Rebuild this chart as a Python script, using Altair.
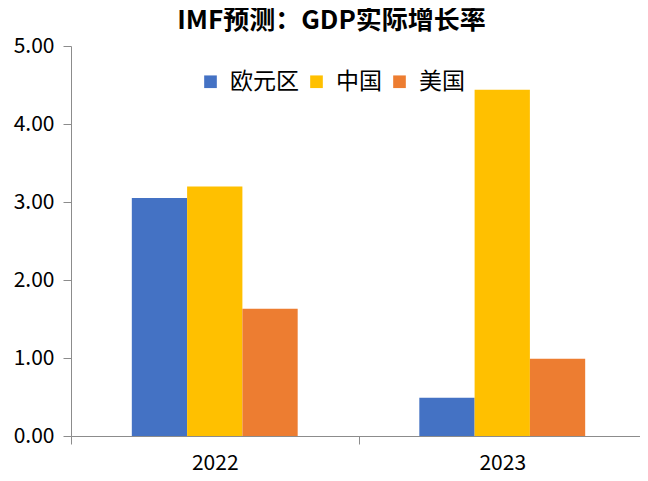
import altair as alt
import pandas as pd

years = ["2022", "2023"]
regions = ["欧元区", "中国", "美国"]
euro = [3.05, 0.49]
china = [3.20, 4.44]
usa = [1.63, 0.99]
colors = ["#4472C4", "#FFC000", "#ED7D31"]

rows = []
for series, vals in zip(regions, [euro, china, usa]):
    for y, v in zip(years, vals):
        rows.append({"year": y, "region": series, "value": v})
df = pd.DataFrame(rows)

FONT = "Noto Sans CJK SC"
# blank slots either side of the three bars create the gap between groups
offset_domain = ["_gap_left"] + regions + ["_gap_right"]

chart = alt.Chart(df).mark_bar().encode(
    x=alt.X("year:N", sort=years, title=None,
            scale=alt.Scale(paddingInner=0, paddingOuter=0),
            axis=alt.Axis(labelAngle=0, tickBand="extent", domainColor="#8c8c8c",
                          tickColor="#8c8c8c", tickSize=8, labelFontSize=21,
                          labelPadding=8, labelColor="#000000", labelFont=FONT)),
    xOffset=alt.XOffset("region:N",
                        scale=alt.Scale(domain=offset_domain, paddingInner=0,
                                        paddingOuter=0.1)),
    y=alt.Y("value:Q", title=None,
            scale=alt.Scale(domain=[0, 5], nice=False),
            axis=alt.Axis(values=[0, 1, 2, 3, 4, 5], format=".2f", grid=False,
                          domainColor="#8c8c8c", tickColor="#8c8c8c", tickSize=8,
                          labelFontSize=21, labelPadding=9, labelColor="#000000",
                          labelFont=FONT)),
    color=alt.Color("region:N", sort=regions,
                    scale=alt.Scale(domain=regions, range=colors),
                    legend=alt.Legend(title=None, orient="none", legendX=128, legendY=24,
                                      direction="horizontal", symbolType="square",
                                      symbolSize=160, symbolStrokeWidth=0,
                                      labelFontSize=23, labelFont=FONT,
                                      labelColor="#000000", columnPadding=6,
                                      labelOffset=8)),
).properties(
    width=575,
    height=390,
    title=alt.TitleParams("IMF预测：GDP实际增长率", fontSize=26, fontWeight="bold",
                          font=FONT, color="#000000", anchor="middle", dx=-27, offset=1),
    autosize=alt.AutoSizeParams(type="none"),
    padding={"left": 63, "top": 38, "right": -6, "bottom": 37},
).configure_view(stroke=None)

chart.save("out.html", embed_options={"renderer": "svg", "actions": False})
